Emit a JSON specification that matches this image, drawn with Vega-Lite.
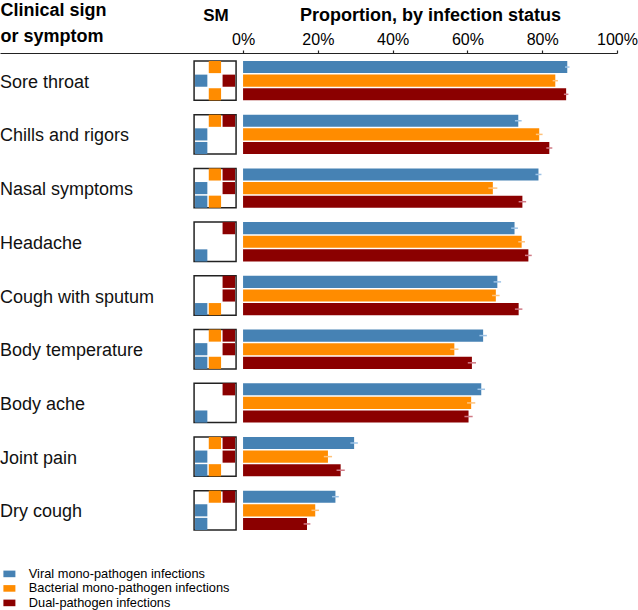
{
  "$schema": "https://vega.github.io/schema/vega-lite/v6.json",
  "width": 617,
  "height": 485,
  "autosize": {"type": "none"},
  "padding": {"left": 0, "top": 53, "right": 21, "bottom": 72},
  "background": "white",
  "config": {"view": {"stroke": null}, "font": "Liberation Sans"},
  "title": {"text": "SM", "anchor": "start", "frame": "group", "dx": 216, "align": "center", "fontSize": 17, "fontWeight": "bold", "color": "black", "offset": -24},
  "datasets": {
    "bars": [
      {"symptom": "Sore throat", "group": "Viral mono-pathogen infections", "value": 86.7, "lo": 86.1, "hi": 87.3},
      {"symptom": "Sore throat", "group": "Bacterial mono-pathogen infections", "value": 83.5, "lo": 82.8, "hi": 84.2},
      {"symptom": "Sore throat", "group": "Dual-pathogen infections", "value": 86.4, "lo": 85.8, "hi": 87.0},
      {"symptom": "Chills and rigors", "group": "Viral mono-pathogen infections", "value": 73.6, "lo": 72.7, "hi": 74.5},
      {"symptom": "Chills and rigors", "group": "Bacterial mono-pathogen infections", "value": 79.2, "lo": 78.3, "hi": 80.1},
      {"symptom": "Chills and rigors", "group": "Dual-pathogen infections", "value": 81.9, "lo": 81.1, "hi": 82.7},
      {"symptom": "Nasal symptoms", "group": "Viral mono-pathogen infections", "value": 79.0, "lo": 78.2, "hi": 79.8},
      {"symptom": "Nasal symptoms", "group": "Bacterial mono-pathogen infections", "value": 66.8, "lo": 65.6, "hi": 68.0},
      {"symptom": "Nasal symptoms", "group": "Dual-pathogen infections", "value": 74.7, "lo": 73.7, "hi": 75.7},
      {"symptom": "Headache", "group": "Viral mono-pathogen infections", "value": 72.6, "lo": 71.7, "hi": 73.5},
      {"symptom": "Headache", "group": "Bacterial mono-pathogen infections", "value": 74.5, "lo": 73.6, "hi": 75.4},
      {"symptom": "Headache", "group": "Dual-pathogen infections", "value": 76.3, "lo": 75.4, "hi": 77.2},
      {"symptom": "Cough with sputum", "group": "Viral mono-pathogen infections", "value": 68.0, "lo": 67.0, "hi": 69.0},
      {"symptom": "Cough with sputum", "group": "Bacterial mono-pathogen infections", "value": 67.6, "lo": 66.6, "hi": 68.6},
      {"symptom": "Cough with sputum", "group": "Dual-pathogen infections", "value": 73.7, "lo": 72.7, "hi": 74.7},
      {"symptom": "Body temperature", "group": "Viral mono-pathogen infections", "value": 64.2, "lo": 63.2, "hi": 65.2},
      {"symptom": "Body temperature", "group": "Bacterial mono-pathogen infections", "value": 56.5, "lo": 55.4, "hi": 57.6},
      {"symptom": "Body temperature", "group": "Dual-pathogen infections", "value": 61.2, "lo": 60.1, "hi": 62.3},
      {"symptom": "Body ache", "group": "Viral mono-pathogen infections", "value": 63.7, "lo": 62.7, "hi": 64.7},
      {"symptom": "Body ache", "group": "Bacterial mono-pathogen infections", "value": 61.0, "lo": 59.9, "hi": 62.1},
      {"symptom": "Body ache", "group": "Dual-pathogen infections", "value": 60.3, "lo": 59.2, "hi": 61.4},
      {"symptom": "Joint pain", "group": "Viral mono-pathogen infections", "value": 29.7, "lo": 28.7, "hi": 30.7},
      {"symptom": "Joint pain", "group": "Bacterial mono-pathogen infections", "value": 22.7, "lo": 21.6, "hi": 23.8},
      {"symptom": "Joint pain", "group": "Dual-pathogen infections", "value": 26.1, "lo": 25.0, "hi": 27.2},
      {"symptom": "Dry cough", "group": "Viral mono-pathogen infections", "value": 24.7, "lo": 23.8, "hi": 25.6},
      {"symptom": "Dry cough", "group": "Bacterial mono-pathogen infections", "value": 19.3, "lo": 18.3, "hi": 20.3},
      {"symptom": "Dry cough", "group": "Dual-pathogen infections", "value": 17.1, "lo": 16.2, "hi": 18.0}
    ],
    "sm": [
      {"symptom": "Sore throat", "comparison": "Bacterial vs Dual", "group": "Bacterial mono-pathogen infections"},
      {"symptom": "Sore throat", "comparison": "Viral vs Dual", "group": "Viral mono-pathogen infections"},
      {"symptom": "Sore throat", "comparison": "Viral vs Dual", "group": "Dual-pathogen infections"},
      {"symptom": "Sore throat", "comparison": "Viral vs Bacterial", "group": "Bacterial mono-pathogen infections"},
      {"symptom": "Chills and rigors", "comparison": "Bacterial vs Dual", "group": "Bacterial mono-pathogen infections"},
      {"symptom": "Chills and rigors", "comparison": "Bacterial vs Dual", "group": "Dual-pathogen infections"},
      {"symptom": "Chills and rigors", "comparison": "Viral vs Dual", "group": "Viral mono-pathogen infections"},
      {"symptom": "Chills and rigors", "comparison": "Viral vs Bacterial", "group": "Viral mono-pathogen infections"},
      {"symptom": "Nasal symptoms", "comparison": "Bacterial vs Dual", "group": "Bacterial mono-pathogen infections"},
      {"symptom": "Nasal symptoms", "comparison": "Bacterial vs Dual", "group": "Dual-pathogen infections"},
      {"symptom": "Nasal symptoms", "comparison": "Viral vs Dual", "group": "Viral mono-pathogen infections"},
      {"symptom": "Nasal symptoms", "comparison": "Viral vs Dual", "group": "Dual-pathogen infections"},
      {"symptom": "Nasal symptoms", "comparison": "Viral vs Bacterial", "group": "Viral mono-pathogen infections"},
      {"symptom": "Nasal symptoms", "comparison": "Viral vs Bacterial", "group": "Bacterial mono-pathogen infections"},
      {"symptom": "Headache", "comparison": "Bacterial vs Dual", "group": "Dual-pathogen infections"},
      {"symptom": "Headache", "comparison": "Viral vs Bacterial", "group": "Viral mono-pathogen infections"},
      {"symptom": "Cough with sputum", "comparison": "Bacterial vs Dual", "group": "Dual-pathogen infections"},
      {"symptom": "Cough with sputum", "comparison": "Viral vs Dual", "group": "Dual-pathogen infections"},
      {"symptom": "Cough with sputum", "comparison": "Viral vs Bacterial", "group": "Viral mono-pathogen infections"},
      {"symptom": "Cough with sputum", "comparison": "Viral vs Bacterial", "group": "Bacterial mono-pathogen infections"},
      {"symptom": "Body temperature", "comparison": "Bacterial vs Dual", "group": "Bacterial mono-pathogen infections"},
      {"symptom": "Body temperature", "comparison": "Bacterial vs Dual", "group": "Dual-pathogen infections"},
      {"symptom": "Body temperature", "comparison": "Viral vs Dual", "group": "Viral mono-pathogen infections"},
      {"symptom": "Body temperature", "comparison": "Viral vs Dual", "group": "Dual-pathogen infections"},
      {"symptom": "Body temperature", "comparison": "Viral vs Bacterial", "group": "Viral mono-pathogen infections"},
      {"symptom": "Body temperature", "comparison": "Viral vs Bacterial", "group": "Bacterial mono-pathogen infections"},
      {"symptom": "Body ache", "comparison": "Bacterial vs Dual", "group": "Dual-pathogen infections"},
      {"symptom": "Body ache", "comparison": "Viral vs Bacterial", "group": "Viral mono-pathogen infections"},
      {"symptom": "Joint pain", "comparison": "Bacterial vs Dual", "group": "Bacterial mono-pathogen infections"},
      {"symptom": "Joint pain", "comparison": "Bacterial vs Dual", "group": "Dual-pathogen infections"},
      {"symptom": "Joint pain", "comparison": "Viral vs Dual", "group": "Viral mono-pathogen infections"},
      {"symptom": "Joint pain", "comparison": "Viral vs Dual", "group": "Dual-pathogen infections"},
      {"symptom": "Joint pain", "comparison": "Viral vs Bacterial", "group": "Viral mono-pathogen infections"},
      {"symptom": "Joint pain", "comparison": "Viral vs Bacterial", "group": "Bacterial mono-pathogen infections"},
      {"symptom": "Dry cough", "comparison": "Bacterial vs Dual", "group": "Bacterial mono-pathogen infections"},
      {"symptom": "Dry cough", "comparison": "Bacterial vs Dual", "group": "Dual-pathogen infections"},
      {"symptom": "Dry cough", "comparison": "Viral vs Dual", "group": "Viral mono-pathogen infections"},
      {"symptom": "Dry cough", "comparison": "Viral vs Bacterial", "group": "Viral mono-pathogen infections"}
    ]
  },
  "layer": [
    {
      "data": {"name": "bars"},
      "transform": [{"filter": "datum.group === 'Viral mono-pathogen infections'"}],
      "mark": {"type": "rect", "fill": "white", "stroke": "#222", "strokeWidth": 1.5},
      "encoding": {
        "x": {"datum": -13.1},
        "x2": {"datum": -1.87},
        "y": {
          "field": "symptom", "type": "nominal", "sort": null,
          "scale": {"paddingInner": 0.267, "paddingOuter": 0.149},
          "axis": {"title": ["Clinical sign", "or symptom"], "labels": false, "ticks": false, "domain": false, "titleAngle": 0, "titleAlign": "left", "titleBaseline": "alphabetic", "titleX": 0, "titleY": -38, "titleFontSize": 18, "titleFontWeight": "bold", "titleColor": "black", "titleLineHeight": 26}
        }
      }
    },
    {
      "data": {"name": "sm"},
      "transform": [{"filter": "datum.group === 'Viral mono-pathogen infections'"}],
      "mark": {"type": "rect"},
      "encoding": {
        "x": {"datum": -12.84},
        "x2": {"datum": -9.55},
        "y": {"field": "symptom", "type": "nominal", "sort": null},
        "yOffset": {"field": "comparison", "type": "nominal", "scale": {"domain": ["Bacterial vs Dual", "Viral vs Dual", "Viral vs Bacterial"], "paddingInner": 0.11, "paddingOuter": 0}},
        "color": {"field": "group", "type": "nominal"}
      }
    },
    {
      "data": {"name": "sm"},
      "transform": [{"filter": "datum.group === 'Bacterial mono-pathogen infections'"}],
      "mark": {"type": "rect"},
      "encoding": {
        "x": {"datum": -9.17},
        "x2": {"datum": -5.88},
        "y": {"field": "symptom", "type": "nominal", "sort": null},
        "yOffset": {"field": "comparison", "type": "nominal", "scale": {"domain": ["Bacterial vs Dual", "Viral vs Dual", "Viral vs Bacterial"], "paddingInner": 0.11, "paddingOuter": 0}},
        "color": {"field": "group", "type": "nominal"}
      }
    },
    {
      "data": {"name": "sm"},
      "transform": [{"filter": "datum.group === 'Dual-pathogen infections'"}],
      "mark": {"type": "rect"},
      "encoding": {
        "x": {"datum": -5.48},
        "x2": {"datum": -2.14},
        "y": {"field": "symptom", "type": "nominal", "sort": null},
        "yOffset": {"field": "comparison", "type": "nominal", "scale": {"domain": ["Bacterial vs Dual", "Viral vs Dual", "Viral vs Bacterial"], "paddingInner": 0.11, "paddingOuter": 0}},
        "color": {"field": "group", "type": "nominal"}
      }
    },
    {
      "data": {"name": "bars"},
      "mark": {"type": "bar"},
      "encoding": {
        "x": {
          "field": "value", "type": "quantitative",
          "scale": {"domain": [-65, 100], "nice": false, "zero": false},
          "axis": {"orient": "top", "values": [0, 20, 40, 60, 80, 100], "labelExpr": "datum.value + '%'", "grid": false, "tickSize": 3, "labelPadding": 3, "labelFontSize": 16, "labelColor": "black", "labelFlush": false, "domainColor": "#222", "tickColor": "#222", "domainWidth": 1.2, "tickWidth": 1.2, "title": "Proportion, by infection status", "titleFontSize": 18, "titleFontWeight": "bold", "titleColor": "black", "titleX": 430, "titleY": -33, "titleAlign": "center", "titleBaseline": "alphabetic"}
        },
        "x2": {"datum": 0},
        "y": {"field": "symptom", "type": "nominal", "sort": null},
        "yOffset": {"field": "group", "type": "nominal", "scale": {"domain": ["Viral mono-pathogen infections", "Bacterial mono-pathogen infections", "Dual-pathogen infections"], "paddingInner": 0.11, "paddingOuter": 0}},
        "color": {
          "field": "group", "type": "nominal",
          "scale": {"domain": ["Viral mono-pathogen infections", "Bacterial mono-pathogen infections", "Dual-pathogen infections"], "range": ["#4682B4", "#FF8C00", "#8B0000"]},
          "legend": {"title": null, "orient": "none", "legendX": 3, "legendY": 514.5, "symbolType": "M-1,-0.55H1V0.55H-1Z", "symbolSize": 144, "symbolStrokeWidth": 0, "symbolOpacity": 1, "labelFontSize": 12.8, "labelOffset": 13, "rowPadding": 0.5, "padding": 0, "labelColor": "black", "labelLimit": 400}
        }
      }
    },
    {
      "data": {"name": "bars"},
      "mark": {"type": "rule", "strokeWidth": 1.5},
      "encoding": {
        "x": {"field": "lo", "type": "quantitative"},
        "x2": {"field": "hi"},
        "y": {"field": "symptom", "type": "nominal", "sort": null},
        "yOffset": {"field": "group", "type": "nominal", "scale": {"domain": ["Viral mono-pathogen infections", "Bacterial mono-pathogen infections", "Dual-pathogen infections"], "paddingInner": 0.11, "paddingOuter": 0}},
        "stroke": {
          "field": "group", "type": "nominal",
          "scale": {"domain": ["Viral mono-pathogen infections", "Bacterial mono-pathogen infections", "Dual-pathogen infections"], "range": ["#9dc3e6", "#ffc27a", "#d07a86"]},
          "legend": null
        }
      }
    },
    {
      "data": {"name": "bars"},
      "transform": [{"filter": "datum.group === 'Viral mono-pathogen infections'"}],
      "mark": {"type": "text", "align": "left", "baseline": "middle", "fontSize": 18, "color": "#111", "dy": 2},
      "encoding": {
        "x": {"datum": -65},
        "y": {"field": "symptom", "type": "nominal", "sort": null},
        "text": {"field": "symptom"}
      }
    }
  ],
  "resolve": {"scale": {"yOffset": "independent"}}
}
